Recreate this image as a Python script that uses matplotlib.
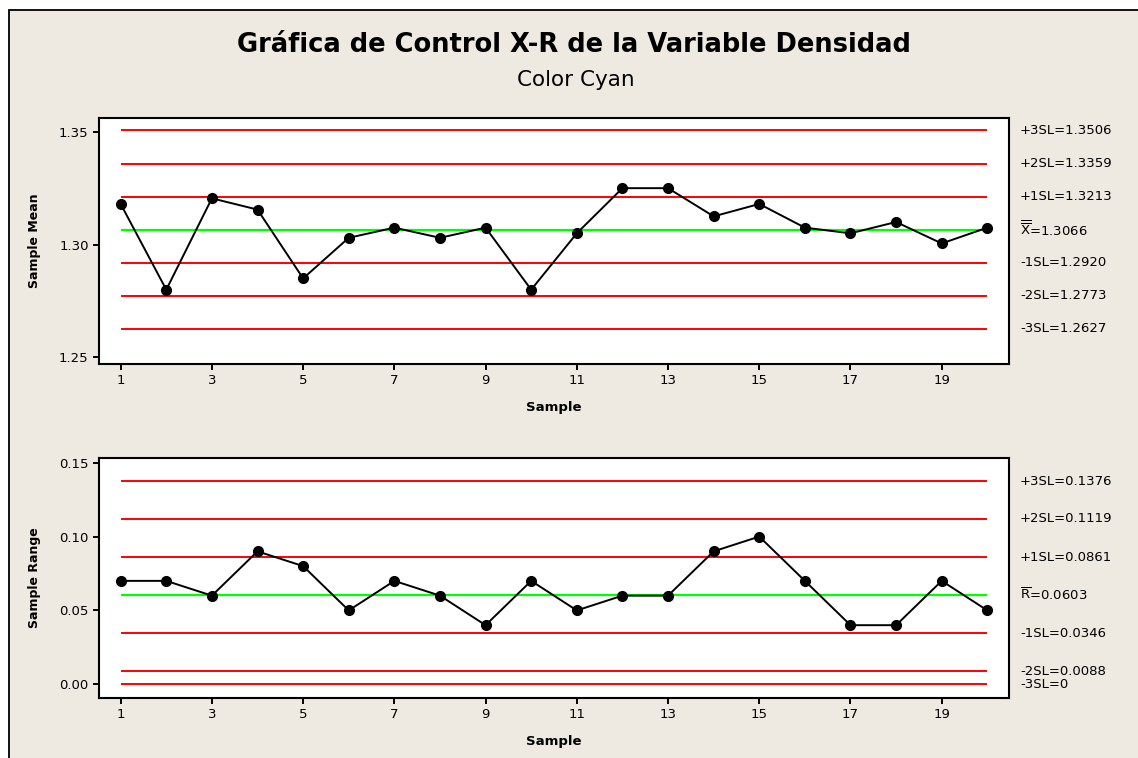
import matplotlib
matplotlib.use('Agg')
import matplotlib.pyplot as plt
from matplotlib.patches import Rectangle

# datos
samples = list(range(1, 21))
means = [1.318, 1.28, 1.3205, 1.3155, 1.285, 1.303, 1.3075, 1.303, 1.3075, 1.28,
         1.305, 1.325, 1.325, 1.3125, 1.318, 1.3075, 1.305, 1.31, 1.3005, 1.3075]
ranges = [0.07, 0.07, 0.06, 0.09, 0.08, 0.05, 0.07, 0.06, 0.04, 0.07,
          0.05, 0.06, 0.06, 0.09, 0.10, 0.07, 0.04, 0.04, 0.07, 0.05]

xbar_limits = [1.3506, 1.3359, 1.3213, 1.2920, 1.2773, 1.2627]
xbar_labels = ['+3SL=1.3506', '+2SL=1.3359', '+1SL=1.3213',
               '-1SL=1.2920', '-2SL=1.2773', '-3SL=1.2627']
xbar_center = 1.3066
xbar_center_label = r'$\overline{\overline{\mathrm{X}}}$=1.3066'

r_limits = [0.1376, 0.1119, 0.0861, 0.0346, 0.0088, 0.0]
r_labels = ['+3SL=0.1376', '+2SL=0.1119', '+1SL=0.0861',
            '-1SL=0.0346', '-2SL=0.0088', '-3SL=0']
r_center = 0.0603
r_center_label = r'$\overline{\mathrm{R}}$=0.0603'

BG = '#eeeae1'
W, H = 1138, 758

plt.rcParams['font.family'] = ['DejaVu Sans']
fig = plt.figure(figsize=(W / 100, H / 100), dpi=100, facecolor='white')
fig.patches.append(Rectangle((9 / W, -0.05), 1.1, 1.05 - 10 / H, transform=fig.transFigure,
                             facecolor=BG, edgecolor='black', linewidth=1.3, zorder=-10))

fig.text(0.504, 1 - 45 / H, 'Gráfica de Control X-R de la Variable Densidad',
         ha='center', va='center', fontsize=18.5, fontweight='bold')
fig.text(0.506, 1 - 80 / H, 'Color Cyan', ha='center', va='center', fontsize=15.5)

ax1 = fig.add_axes([99 / W, 1 - 363.7 / H, 910 / W, 245.7 / H])
ax2 = fig.add_axes([99 / W, 1 - 697.7 / H, 910 / W, 239.7 / H])


def control_panel(ax, values, limits, labels, center, center_label, ylim, yticks, ylabel):
    ax.set_facecolor('white')
    for lim, lab in zip(limits, labels):
        ax.hlines(lim, samples[0], samples[-1], color='#ff0000', linewidth=1.4, zorder=1)
        ax.text(1.012, lim, lab, transform=ax.get_yaxis_transform(), ha='left', va='center',
                fontsize=9.5, clip_on=False)
    ax.hlines(center, samples[0], samples[-1], color='#00ff00', linewidth=1.6, zorder=1)
    ax.text(1.012, center, center_label, transform=ax.get_yaxis_transform(), ha='left',
            va='center', fontsize=9.5, clip_on=False)
    ax.plot(samples, values, color='black', linewidth=1.4, marker='o', markersize=7, zorder=3)

    ax.set_xlim(0.525, 20.475)
    ax.set_ylim(*ylim)
    ax.set_xticks(range(1, 20, 2))
    ax.set_yticks(yticks)
    ax.tick_params(direction='out', length=4, width=1.4, labelsize=9.5, colors='black')
    for s in ax.spines.values():
        s.set_linewidth(1.5)
        s.set_color('black')
    ax.set_xlabel('Sample', fontsize=9.5, fontweight='bold')
    ax.set_ylabel(ylabel, fontsize=9, fontweight='bold')
    ax.yaxis.set_label_coords(-0.0637, 0.5)


control_panel(ax1, means, xbar_limits, xbar_labels, xbar_center, xbar_center_label,
              (1.2472, 1.3561), [1.25, 1.30, 1.35], 'Sample Mean')
ax1.set_yticklabels(['1.25', '1.30', '1.35'])
ax1.xaxis.set_label_coords(0.5, -0.152)

control_panel(ax2, ranges, r_limits, r_labels, r_center, r_center_label,
              (-0.0091, 0.1532), [0.0, 0.05, 0.10, 0.15], 'Sample Range')
ax2.set_yticklabels(['0.00', '0.05', '0.10', '0.15'])
ax2.xaxis.set_label_coords(0.5, -0.156)

fig.savefig('out.png', dpi=100, facecolor=fig.get_facecolor())
